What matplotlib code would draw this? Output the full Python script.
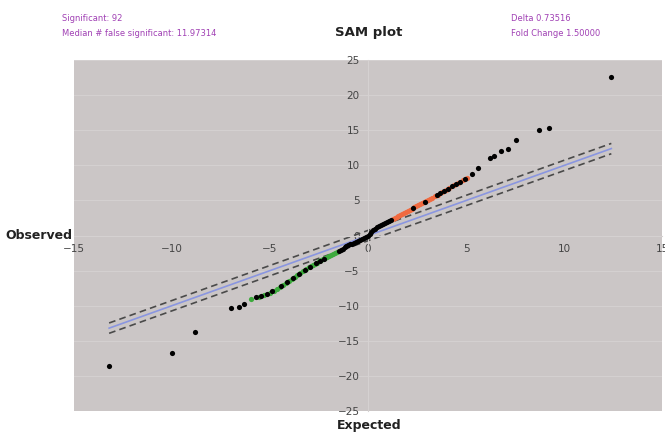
import matplotlib
matplotlib.use("Agg")
import matplotlib.pyplot as plt

# SAM plot data (expected vs observed d-scores)
# non-significant / outlying genes (black)
black_exp = [-13.2, -10.0, -8.8, -7.0, -6.6, -6.3,
             -5.7, -5.44, -5.15, -4.92, -4.42, -4.12, -3.82, -3.52, -3.22, -2.95, -2.65, -2.45, -2.25,
             -1.5, -1.4, -1.3, -1.2, -1.1, -1.0, -0.9, -0.8, -0.7, -0.6, -0.5, -0.4, -0.3, -0.2, -0.1,
             0.0, 0.08, 0.16, 0.25, 0.35, 0.45, 0.55, 0.65, 0.75, 0.85, 0.95, 1.05, 1.15,
             2.3, 2.9, 3.5, 3.65, 3.85, 4.05, 4.3, 4.5, 4.7, 4.95,
             5.3, 5.6, 6.2, 6.4, 6.8, 7.15, 7.55, 8.7, 9.2, 12.4]
black_obs = [-18.6, -16.7, -13.7, -10.3, -10.2, -9.7,
             -8.8, -8.6, -8.3, -7.95, -7.2, -6.6, -6.05, -5.5, -4.95, -4.45, -3.95, -3.6, -3.3,
             -2.15, -2.0, -1.85, -1.7, -1.55, -1.4, -1.25, -1.15, -1.0, -0.9, -0.8, -0.65, -0.5, -0.35, -0.2,
             -0.05, 0.2, 0.5, 0.75, 0.95, 1.15, 1.3, 1.5, 1.65, 1.8, 1.95, 2.1, 2.25,
             3.9, 4.8, 5.75, 6.0, 6.35, 6.7, 7.05, 7.35, 7.65, 8.05,
             8.8, 9.6, 11.0, 11.4, 12.0, 12.4, 13.6, 15.0, 15.3, 22.6]

# significant, down (green)
down_exp = [-5.95, -5.55, -5.3, -5.0, -4.8, -4.65, -4.5, -4.35, -4.2, -4.05, -3.9, -3.75, -3.6,
            -3.45, -3.3, -3.15, -3.0, -2.9, -2.8, -2.7, -2.6, -2.5, -2.4, -2.3, -2.2, -2.1, -2.0,
            -1.9, -1.8, -1.7, -1.6]
down_obs = [-9.1, -8.75, -8.5, -8.15, -7.85, -7.6, -7.35, -7.05, -6.75, -6.45, -6.15, -5.9, -5.65,
            -5.4, -5.1, -4.8, -4.5, -4.35, -4.2, -4.05, -3.85, -3.65, -3.5, -3.35, -3.2, -3.05, -2.9,
            -2.75, -2.6, -2.45, -2.3]

# significant, up (red)
up_exp = [1.25, 1.35, 1.45, 1.55, 1.65, 1.75, 1.85, 1.95, 2.05, 2.15, 2.25, 2.35, 2.45, 2.55, 2.65,
          2.75, 2.85, 2.95, 3.05, 3.15, 3.25, 3.4, 3.55, 3.75, 3.95, 4.15, 4.4, 4.6, 4.85, 5.05]
up_obs = [2.35, 2.5, 2.65, 2.8, 2.95, 3.1, 3.25, 3.4, 3.55, 3.7, 3.85, 4.0, 4.15, 4.3, 4.45,
          4.6, 4.75, 4.9, 5.05, 5.2, 5.35, 5.6, 5.85, 6.2, 6.55, 6.85, 7.2, 7.5, 7.9, 8.25]

delta = 0.73516
line_x = [-13.2, 12.4]

fig = plt.figure(figsize=(6.65, 4.33), dpi=100)
ax = fig.add_axes([0.111, 0.051, 0.885, 0.810])
ax.set_facecolor("#cbc6c6")

ax.set_xlim(-15, 15)
ax.set_ylim(-25, 25)
ax.set_xticks(range(-15, 16, 5))
ax.set_yticks(range(-25, 26, 5))

# horizontal gridlines
for yv in range(-25, 26, 5):
    ax.axhline(yv, color="#d5d1d1", lw=0.7, zorder=0)

# axes crossing at origin
for side in ["top", "right"]:
    ax.spines[side].set_visible(False)
ax.spines["left"].set_position(("data", 0))
ax.spines["bottom"].set_position(("data", 0))
ax.spines["left"].set_color("#d5d1d1")
ax.spines["bottom"].set_color("#d5d1d1")
ax.tick_params(length=0, labelsize=7.5, labelcolor="#444444", pad=6)

# reference lines
ax.plot(line_x, line_x, color="#8a96e0", lw=1.2, zorder=2)
ax.plot(line_x, [v + delta for v in line_x], color="#4a4a4a", lw=1.2, ls=(0, (4, 2.5)), zorder=2)
ax.plot(line_x, [v - delta for v in line_x], color="#4a4a4a", lw=1.2, ls=(0, (4, 2.5)), zorder=2)

ax.scatter(down_exp, down_obs, s=14, color="#3daa3d", zorder=3, linewidths=0)
ax.scatter(up_exp, up_obs, s=14, color="#f06a40", zorder=3, linewidths=0)
ax.scatter(black_exp, black_obs, s=14, color="black", zorder=4, linewidths=0)

purple = "#a040b4"
fig.text(0.093, 0.958, "Significant: 92", color=purple, fontsize=6, ha="left", va="center")
fig.text(0.093, 0.922, "Median # false significant: 11.97314", color=purple, fontsize=6, ha="left", va="center")
fig.text(0.768, 0.958, "Delta 0.73516", color=purple, fontsize=6, ha="left", va="center")
fig.text(0.768, 0.922, "Fold Change 1.50000", color=purple, fontsize=6, ha="left", va="center")
fig.text(0.555, 0.925, "SAM plot", fontsize=9.5, fontweight="bold", ha="center", va="center", color="#222222")
fig.text(0.008, 0.455, "Observed", fontsize=9, fontweight="bold", ha="left", va="center", color="#222222")
fig.text(0.555, 0.018, "Expected", fontsize=9, fontweight="bold", ha="center", va="center", color="#222222")

fig.savefig("out.png", dpi=100)
